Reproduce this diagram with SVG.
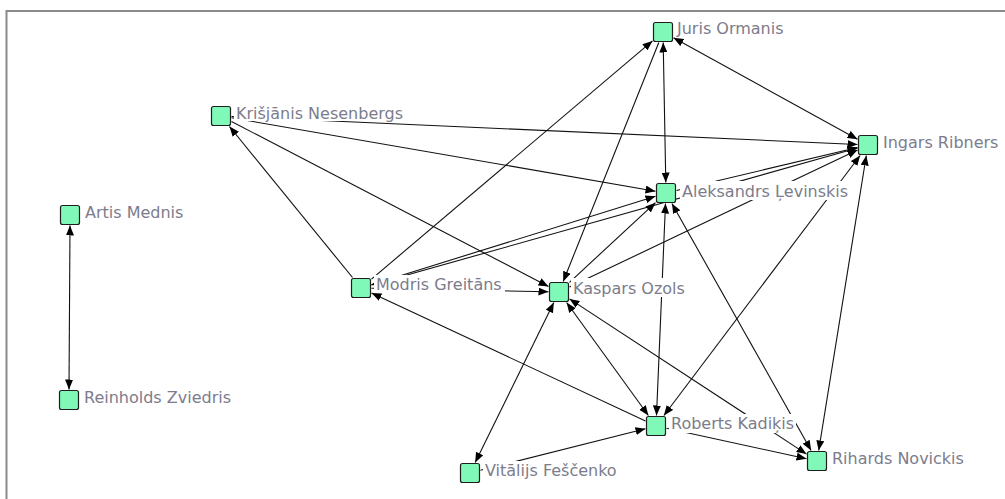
<svg xmlns="http://www.w3.org/2000/svg" width="1005" height="499" viewBox="0 0 1005 499">
  <defs>
    <marker id="arrow" viewBox="0 0 10 8" refX="10" refY="4" markerWidth="10" markerHeight="8" markerUnits="userSpaceOnUse" orient="auto-start-reverse">
      <path d="M0,0 L10,4 L0,8 z" fill="#000"/>
    </marker>
  </defs>
  <style>
    .edge { stroke: #111; stroke-width: 1.1; fill: none; marker-end: url(#arrow); }
    .both { marker-start: url(#arrow); }
    .box { fill: #80f8b8; stroke: #1e1e1e; stroke-width: 1.2; }
    .lblbg { fill: #fff; }
    .lbl { font-family: "DejaVu Sans", "Liberation Sans", sans-serif; font-size: 16px; fill: #7c7c8c; }
    .frame { stroke: #8a8a8a; stroke-width: 2; fill: none; }
  </style>

  <rect x="0" y="0" width="1005" height="499" fill="#fff"/>
  <path class="frame" d="M6.5,499 V11 H1005"/>

  <!-- ties -->
  <g id="connectors">
    <line class="edge both" x1="70" y1="225.5" x2="69" y2="389.5"/>
    <line class="edge both" x1="663.2" y1="42.5" x2="665.8" y2="182.5"/>
    <line class="edge both" x1="673.5" y1="37.8" x2="857.5" y2="139.2"/>
    <line class="edge" x1="371.5" y1="279.1" x2="652.5" y2="40.9"/>
    <line class="edge" x1="658.8" y1="42.5" x2="563.2" y2="281.5"/>
    <line class="edge" x1="231.5" y1="116.5" x2="857.5" y2="144.5"/>
    <line class="edge" x1="231.5" y1="117.8" x2="655.5" y2="191.2"/>
    <line class="edge" x1="231.5" y1="121.5" x2="548.5" y2="286.5"/>
    <line class="edge" x1="352.5" y1="277.5" x2="229.5" y2="126.5"/>
    <line class="edge both" x1="371.5" y1="284.7" x2="655.5" y2="196.3"/>
    <line class="edge both" x1="371.5" y1="285" x2="857.5" y2="148"/>
    <line class="edge" x1="676.5" y1="190.5" x2="857.5" y2="147.5"/>
    <line class="edge" x1="569.5" y1="287" x2="857.5" y2="150"/>
    <line class="edge" x1="569.5" y1="282.3" x2="655.5" y2="202.7"/>
    <line class="edge both" x1="665.5" y1="203.5" x2="656.5" y2="415.5"/>
    <line class="edge both" x1="671.9" y1="203.5" x2="811.1" y2="450.5"/>
    <line class="edge both" x1="663.9" y1="415.5" x2="860.1" y2="155.5"/>
    <line class="edge both" x1="818.7" y1="450.5" x2="866.3" y2="155.5"/>
    <line class="edge" x1="666.5" y1="428.3" x2="806.5" y2="458.7"/>
    <line class="edge both" x1="569.5" y1="298.9" x2="806.5" y2="454.1"/>
    <line class="edge both" x1="566.6" y1="302.5" x2="648.4" y2="415.5"/>
    <line class="edge" x1="645.5" y1="421.1" x2="371.5" y2="292.9"/>
    <line class="edge both" x1="475.2" y1="462.5" x2="553.8" y2="302.5"/>
    <line class="edge" x1="480.5" y1="470.3" x2="645.5" y2="428.7"/>
    <line class="edge" x1="371.5" y1="288.2" x2="548.5" y2="291.8"/>
  </g>

  <!-- actors -->
  <g id="juris-ormanis">
    <rect class="lblbg" x="675" y="20" width="114" height="17"/>
    <rect class="box" x="653.5" y="22.5" width="19" height="19" rx="2"/>
    <text class="lbl" x="677" y="34">Juris Ormanis</text>
  </g>
  <g id="ingars-ribners">
    <rect class="lblbg" x="881" y="134" width="124" height="17"/>
    <rect class="box" x="858.5" y="135.5" width="19" height="19" rx="2"/>
    <text class="lbl" x="883" y="148">Ingars Ribners</text>
  </g>
  <g id="aleksandrs-levinskis">
    <rect class="lblbg" x="680" y="181" width="168" height="19"/>
    <rect class="box" x="656.5" y="183.5" width="19" height="19" rx="2"/>
    <text class="lbl" x="682" y="197">Aleksandrs Ļevinskis</text>
  </g>
  <g id="krisjanis-nesenbergs">
    <rect class="lblbg" x="234" y="104" width="172" height="17"/>
    <rect class="box" x="211.5" y="106.5" width="19" height="19" rx="2"/>
    <text class="lbl" x="236" y="119">Krišjānis Nesenbergs</text>
  </g>
  <g id="modris-greitans">
    <rect class="lblbg" x="374" y="275" width="131" height="18"/>
    <rect class="box" x="351.5" y="278.5" width="19" height="19" rx="2"/>
    <text class="lbl" x="376" y="290">Modris Greitāns</text>
  </g>
  <g id="kaspars-ozols">
    <rect class="lblbg" x="571" y="278" width="121" height="19"/>
    <rect class="box" x="549.5" y="282.5" width="19" height="19" rx="2"/>
    <text class="lbl" x="573" y="294">Kaspars Ozols</text>
  </g>
  <g id="roberts-kadikis">
    <rect class="lblbg" x="669" y="414" width="127" height="19"/>
    <rect class="box" x="646.5" y="416.5" width="19" height="19" rx="2"/>
    <text class="lbl" x="671" y="429">Roberts Kadiķis</text>
  </g>
  <g id="vitalijs-fescenko">
    <rect class="lblbg" x="483" y="461" width="136" height="18"/>
    <rect class="box" x="460.5" y="463.5" width="19" height="19" rx="2"/>
    <text class="lbl" x="485" y="476">Vitālijs Feščenko</text>
  </g>
  <g id="rihards-novickis">
    <rect class="lblbg" x="830" y="449" width="134" height="18"/>
    <rect class="box" x="807.5" y="451.5" width="19" height="19" rx="2"/>
    <text class="lbl" x="832" y="464">Rihards Novickis</text>
  </g>
  <g id="artis-mednis">
    <rect class="lblbg" x="83" y="203" width="102" height="18"/>
    <rect class="box" x="60.5" y="205.5" width="19" height="19" rx="2"/>
    <text class="lbl" x="85" y="218">Artis Mednis</text>
  </g>
  <g id="reinholds-zviedris">
    <rect class="lblbg" x="82" y="388" width="145" height="18"/>
    <rect class="box" x="59.5" y="390.5" width="19" height="19" rx="2"/>
    <text class="lbl" x="84" y="403">Reinholds Zviedris</text>
  </g>
</svg>
